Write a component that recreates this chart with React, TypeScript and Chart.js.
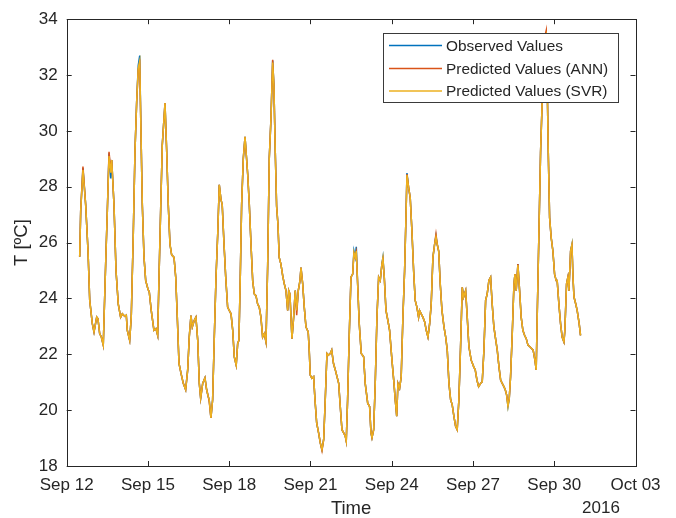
import React, { useEffect, useRef } from "react";
import { Chart, registerables } from "chart.js";

Chart.register(...registerables);

// Hours since Sep 12 2016 00:00
const hours = [
  11.5, 12.4, 14.4, 16.8, 18.9, 20.4, 22.7, 24.2, 26.6, 27.7,
  29.2, 30.7, 32.4, 34.6, 36.0, 37.5, 39.0, 39.9, 41.9, 43.7,
  45.7, 47.8, 49.3, 51.4, 52.8, 53.7, 55.8, 57.2, 59.0, 60.5,
  62.0, 63.4, 64.7, 65.6, 67.0, 68.5, 70.0, 72.0, 73.2, 74.9,
  77.3, 79.1, 80.6, 81.8, 83.3, 84.7, 86.2, 87.1, 88.6, 90.0,
  91.5, 93.0, 95.1, 96.6, 98.0, 99.5, 101.3, 103.3, 105.4, 107.2,
  108.6, 110.1, 111.3, 113.0, 114.5, 116.1, 117.5, 118.7, 120.5, 122.5,
  124.0, 125.4, 126.3, 127.8, 129.3, 130.8, 132.3, 133.8, 135.2, 136.7,
  137.8, 139.4, 140.9, 142.6, 144.0, 145.6, 147.1, 148.5, 150.2, 151.5,
  152.6, 153.8, 155.0, 156.5, 158.0, 160.4, 161.8, 163.3, 164.8, 166.2,
  167.7, 169.2, 170.6, 172.1, 173.6, 175.1, 176.6, 178.1, 179.5, 181.0,
  182.5, 183.6, 184.8, 186.0, 187.2, 188.3, 189.8, 191.4, 192.8, 194.3,
  195.8, 196.7, 197.8, 199.6, 201.1, 202.5, 203.8, 205.2, 206.7, 207.6,
  209.1, 210.5, 212.0, 214.0, 214.9, 215.8, 217.3, 218.8, 220.0, 221.5,
  223.2, 224.7, 226.2, 227.7, 229.1, 230.6, 231.8, 233.5, 234.8, 236.4,
  238.0, 239.5, 241.0, 242.4, 243.9, 245.4, 246.8, 247.7, 248.9, 250.4,
  251.9, 253.4, 254.5, 255.7, 256.6, 257.8, 259.2, 261.0, 263.1, 264.5,
  266.7, 268.4, 269.6, 270.5, 272.0, 273.4, 274.9, 276.4, 277.8, 279.3,
  280.2, 281.4, 282.9, 284.6, 286.1, 288.2, 290.0, 291.1, 292.4, 293.5,
  295.0, 296.4, 297.9, 299.4, 300.6, 301.5, 303.0, 304.4, 305.9, 307.4,
  308.8, 310.3, 311.8, 312.7, 314.1, 315.6, 317.2, 318.6, 320.1, 321.6,
  323.0, 324.5, 326.0, 327.2, 328.3, 329.6, 331.0, 332.5, 334.3, 335.8,
  337.2, 338.7, 340.2, 341.6, 343.1, 344.6, 346.0, 347.5, 349.0, 350.5,
  351.7, 353.5, 354.9, 356.4, 358.4, 360.6, 362.0, 363.5, 365.0, 366.8,
  368.2, 369.7, 371.2, 372.6, 374.1, 375.6, 377.0, 378.5, 380.0, 381.5,
  383.0, 384.5, 385.9, 387.4, 388.6, 389.8, 391.0, 392.1, 393.3, 394.8,
  396.3, 397.2, 398.3, 399.8, 401.3, 402.7, 404.2, 405.7, 407.2, 408.7,
  410.4, 411.9, 413.3, 414.9, 416.0, 416.9, 418.4, 419.9, 421.3, 422.2,
  423.5, 424.9, 425.8, 426.7, 427.9, 429.3, 430.8, 432.3, 433.7, 434.6,
  436.1, 437.6, 439.0, 440.6, 441.4, 442.9, 444.1, 445.0, 446.5, 447.7,
  448.6, 449.5, 451.0, 452.3, 454.1, 455.3,
];

const observedValues = [
  25.49, 27.13, 28.67, 27.36, 25.70, 23.93, 23.10, 22.80, 23.33, 23.27,
  22.74, 22.62, 22.33, 25.35, 27.13, 29.20, 28.30, 28.96, 27.36, 24.99,
  23.80, 23.33, 23.45, 23.36, 23.40, 22.86, 22.50, 23.33, 26.30, 29.26,
  31.04, 32.34, 32.70, 30.44, 27.36, 25.47, 24.64, 24.34, 24.22, 23.57,
  22.86, 22.92, 22.68, 24.76, 27.24, 29.50, 30.44, 31.00, 29.26, 27.36,
  25.94, 25.56, 25.47, 24.76, 23.33, 21.67, 21.32, 20.96, 20.73, 21.44,
  22.62, 23.39, 22.98, 23.21, 23.33, 22.50, 20.96, 20.43, 20.96, 21.16,
  20.73, 20.49, 20.37, 19.72, 20.37, 22.62, 24.76, 26.30, 28.07, 27.54,
  27.36, 25.94, 24.76, 23.69, 23.57, 23.45, 22.86, 21.91, 21.61, 22.39,
  22.50, 24.76, 27.36, 29.02, 29.79, 28.43, 27.36, 25.94, 24.64, 24.16,
  24.10, 23.80, 23.69, 23.33, 22.62, 22.74, 22.44, 25.23, 29.02, 30.44,
  32.52, 31.63, 29.26, 27.30, 26.65, 25.47, 25.23, 24.81, 24.52, 24.28,
  23.57, 24.28, 24.16, 22.56, 23.33, 24.28, 23.57, 24.28, 24.64, 25.11,
  24.52, 23.69, 22.98, 22.80, 22.15, 21.26, 21.14, 21.20, 20.37, 19.54,
  19.19, 18.83, 18.59, 18.95, 20.37, 22.03, 21.97, 22.03, 22.15, 21.67,
  21.44, 21.20, 20.96, 20.13, 19.30, 19.19, 19.07, 18.89, 20.37, 22.74,
  24.76, 24.87, 25.70, 25.47, 25.85, 24.52, 23.10, 22.03, 21.91, 20.96,
  20.25, 20.13, 19.19, 19.01, 19.30, 20.96, 23.33, 24.76, 24.64, 25.23,
  25.47, 24.76, 23.57, 23.21, 22.86, 21.79, 20.96, 20.37, 19.78, 20.96,
  20.79, 21.20, 23.33, 24.99, 26.89, 28.49, 27.96, 27.60, 26.41, 24.99,
  23.93, 23.69, 23.33, 23.57, 23.45, 23.33, 23.16, 22.86, 22.62, 23.10,
  23.81, 25.47, 25.94, 26.24, 25.94, 25.70, 24.52, 23.57, 22.98, 22.62,
  22.15, 20.96, 20.37, 20.19, 19.78, 19.42, 19.30, 20.37, 22.27, 24.40,
  24.05, 24.28, 23.33, 22.27, 21.79, 21.56, 21.44, 21.08, 20.84, 20.96,
  21.02, 22.15, 23.93, 24.16, 24.64, 24.76, 23.81, 22.98, 22.56, 22.15,
  21.56, 21.08, 20.96, 20.84, 20.73, 20.55, 20.13, 20.40, 21.20, 22.74,
  24.52, 24.87, 24.28, 25.23, 24.28, 23.33, 22.86, 22.68, 22.56, 22.33,
  22.27, 22.21, 22.15, 21.79, 21.44, 23.33, 26.30, 29.26, 31.04, 32.22,
  33.29, 33.40, 31.63, 29.26, 26.89, 26.18, 25.70, 24.87, 24.64, 24.64,
  23.81, 23.10, 22.62, 22.44, 22.86, 24.52, 24.76, 24.28, 25.70, 25.94,
  24.76, 24.05, 23.81, 23.57, 23.10, 22.68,
];

const annValues = [
  25.49, 27.13, 28.72, 27.36, 25.70, 23.93, 23.10, 22.80, 23.33, 23.27,
  22.74, 22.62, 22.33, 25.35, 27.13, 29.25, 28.60, 28.96, 27.36, 24.99,
  23.80, 23.33, 23.45, 23.36, 23.40, 22.86, 22.50, 23.33, 26.30, 29.26,
  31.04, 32.20, 32.40, 30.44, 27.36, 25.47, 24.64, 24.34, 24.22, 23.57,
  22.86, 22.92, 22.68, 24.76, 27.24, 29.50, 30.44, 31.00, 29.26, 27.36,
  25.94, 25.56, 25.47, 24.76, 23.33, 21.67, 21.32, 20.96, 20.73, 21.44,
  22.62, 23.39, 22.98, 23.21, 23.33, 22.50, 20.96, 20.43, 20.96, 21.16,
  20.73, 20.49, 20.30, 19.72, 20.37, 22.62, 24.76, 26.30, 28.07, 27.54,
  27.36, 25.94, 24.76, 23.69, 23.57, 23.45, 22.86, 21.91, 21.61, 22.39,
  22.50, 24.76, 27.36, 29.02, 29.79, 28.43, 27.36, 25.94, 24.64, 24.16,
  24.10, 23.80, 23.69, 23.33, 22.62, 22.74, 22.44, 25.23, 29.02, 30.44,
  32.55, 31.63, 29.26, 27.30, 26.65, 25.47, 25.23, 24.81, 24.52, 24.28,
  23.57, 24.28, 24.16, 22.56, 23.33, 24.28, 23.40, 24.28, 24.64, 25.11,
  24.52, 23.69, 22.98, 22.80, 22.15, 21.26, 21.14, 21.20, 20.37, 19.54,
  19.19, 18.83, 18.55, 18.95, 20.37, 22.03, 21.97, 22.03, 22.15, 21.67,
  21.44, 21.20, 20.96, 20.13, 19.30, 19.19, 19.07, 18.89, 20.37, 22.74,
  24.76, 24.87, 25.60, 25.47, 25.65, 24.52, 23.10, 22.03, 21.91, 20.96,
  20.25, 20.13, 19.19, 19.01, 19.30, 20.96, 23.33, 24.76, 24.64, 25.23,
  25.40, 24.76, 23.57, 23.21, 22.86, 21.79, 20.96, 20.37, 19.78, 20.96,
  20.79, 21.20, 23.33, 24.99, 26.89, 28.45, 27.96, 27.60, 26.41, 24.99,
  23.93, 23.69, 23.33, 23.57, 23.45, 23.33, 23.16, 22.86, 22.62, 23.10,
  23.81, 25.47, 25.94, 26.30, 25.94, 25.70, 24.52, 23.57, 22.98, 22.62,
  22.15, 20.96, 20.37, 20.19, 19.78, 19.42, 19.30, 20.37, 22.27, 24.40,
  24.05, 24.28, 23.33, 22.27, 21.79, 21.56, 21.44, 21.08, 20.84, 20.96,
  21.02, 22.15, 23.93, 24.16, 24.64, 24.76, 23.81, 22.98, 22.56, 22.15,
  21.56, 21.08, 20.96, 20.84, 20.73, 20.55, 20.20, 20.40, 21.20, 22.74,
  24.52, 24.87, 24.28, 25.23, 24.28, 23.33, 22.86, 22.68, 22.56, 22.33,
  22.27, 22.21, 22.15, 21.79, 21.44, 23.33, 26.30, 29.26, 31.04, 32.22,
  33.35, 33.60, 31.63, 29.26, 26.89, 26.18, 25.70, 24.87, 24.64, 24.64,
  23.81, 23.10, 22.62, 22.44, 22.86, 24.52, 24.76, 24.28, 25.70, 25.90,
  24.76, 24.05, 23.81, 23.57, 23.10, 22.68,
];

const svrValues = [
  25.49, 27.13, 28.60, 27.36, 25.70, 23.93, 23.10, 22.80, 23.33, 23.27,
  22.74, 22.62, 22.33, 25.35, 27.13, 29.10, 28.50, 28.96, 27.36, 24.99,
  23.80, 23.33, 23.45, 23.36, 23.40, 22.86, 22.50, 23.33, 26.30, 29.26,
  31.04, 32.25, 32.50, 30.44, 27.36, 25.47, 24.64, 24.34, 24.22, 23.57,
  22.86, 22.92, 22.68, 24.76, 27.24, 29.50, 30.44, 31.00, 29.26, 27.36,
  25.94, 25.56, 25.47, 24.76, 23.33, 21.67, 21.32, 20.96, 20.73, 21.44,
  22.62, 23.39, 22.98, 23.21, 23.33, 22.50, 20.96, 20.43, 20.96, 21.16,
  20.73, 20.49, 20.37, 19.72, 20.37, 22.62, 24.76, 26.30, 28.07, 27.54,
  27.36, 25.94, 24.76, 23.69, 23.57, 23.45, 22.86, 21.91, 21.61, 22.39,
  22.50, 24.76, 27.36, 29.02, 29.79, 28.43, 27.36, 25.94, 24.64, 24.16,
  24.10, 23.80, 23.69, 23.33, 22.62, 22.74, 22.44, 25.23, 29.02, 30.44,
  32.45, 31.63, 29.26, 27.30, 26.65, 25.47, 25.23, 24.81, 24.52, 24.28,
  23.57, 24.28, 24.16, 22.56, 23.33, 24.28, 23.57, 24.28, 24.64, 25.11,
  24.52, 23.69, 22.98, 22.80, 22.15, 21.26, 21.14, 21.20, 20.37, 19.54,
  19.19, 18.83, 18.59, 18.95, 20.37, 22.03, 21.97, 22.03, 22.15, 21.67,
  21.44, 21.20, 20.96, 20.13, 19.30, 19.19, 19.07, 18.89, 20.37, 22.74,
  24.76, 24.87, 25.65, 25.47, 25.70, 24.52, 23.10, 22.03, 21.91, 20.96,
  20.25, 20.13, 19.19, 19.01, 19.30, 20.96, 23.33, 24.76, 24.64, 25.23,
  25.45, 24.76, 23.57, 23.21, 22.86, 21.79, 20.96, 20.37, 19.78, 20.96,
  20.79, 21.20, 23.33, 24.99, 26.89, 28.42, 27.96, 27.60, 26.41, 24.99,
  23.93, 23.69, 23.33, 23.57, 23.45, 23.33, 23.16, 22.86, 22.62, 23.10,
  23.81, 25.47, 25.94, 26.20, 25.94, 25.70, 24.52, 23.57, 22.98, 22.62,
  22.15, 20.96, 20.37, 20.19, 19.78, 19.42, 19.30, 20.37, 22.27, 24.40,
  24.05, 24.28, 23.33, 22.27, 21.79, 21.56, 21.44, 21.08, 20.84, 20.96,
  21.02, 22.15, 23.93, 24.16, 24.64, 24.76, 23.81, 22.98, 22.56, 22.15,
  21.56, 21.08, 20.96, 20.84, 20.73, 20.55, 20.13, 20.40, 21.20, 22.74,
  24.52, 24.87, 24.28, 25.20, 24.28, 23.33, 22.86, 22.68, 22.56, 22.33,
  22.27, 22.21, 22.15, 21.79, 21.44, 23.33, 26.30, 29.26, 31.04, 32.22,
  33.29, 33.45, 31.63, 29.26, 26.89, 26.18, 25.70, 24.87, 24.64, 24.64,
  23.81, 23.10, 22.62, 22.44, 22.86, 24.52, 24.76, 24.28, 25.70, 25.94,
  24.76, 24.05, 23.81, 23.57, 23.10, 22.68,
];

const seriesLabels = ["Observed Values", "Predicted Values (ANN)", "Predicted Values (SVR)"];
const seriesColors = ["#0072BD", "#D95319", "#EDB120"];
const xTickLabels = ["Sep 12", "Sep 15", "Sep 18", "Sep 21", "Sep 24", "Sep 27", "Sep 30", "Oct 03"];
const xTickStepHours = 72;
const xMaxHours = 504;
const yMin = 18;
const yMax = 34;
const yStep = 2;
const xTitle = "Time";
const yTitle = "T [ºC]";
const yearLabel = "2016";

const FONT = "'Liberation Sans', Arial, Helvetica, sans-serif";
const INK = "#262626";

const matlabPlugin = {
  id: "matlabDecor",
  afterDraw(chart: any) {
    const ctx = chart.ctx;
    const { left, right, top, bottom } = chart.chartArea;
    const xs = chart.scales.x;
    const ys = chart.scales.y;
    ctx.save();
    ctx.strokeStyle = INK;
    ctx.lineWidth = 1;
    const tl = 5;
    ctx.beginPath();
    for (let v = 0; v <= xMaxHours; v += xTickStepHours) {
      const px = Math.round(xs.getPixelForValue(v)) + 0.5;
      ctx.moveTo(px, bottom);
      ctx.lineTo(px, bottom - tl);
      ctx.moveTo(px, top);
      ctx.lineTo(px, top + tl);
    }
    for (let v = yMin; v <= yMax; v += yStep) {
      const py = Math.round(ys.getPixelForValue(v)) + 0.5;
      ctx.moveTo(left, py);
      ctx.lineTo(left + tl, py);
      ctx.moveTo(right, py);
      ctx.lineTo(right - tl, py);
    }
    ctx.stroke();
    ctx.strokeRect(Math.round(left) + 0.5, Math.round(top) + 0.5, Math.round(right - left), Math.round(bottom - top));

    ctx.fillStyle = INK;
    ctx.textAlign = "center";
    ctx.textBaseline = "middle";
    ctx.font = `18.5px ${FONT}`;
    ctx.fillText(xTitle, (left + right) / 2, 509);
    ctx.font = `17px ${FONT}`;
    ctx.fillText(yearLabel, 601, 508);
    ctx.save();
    ctx.translate(22, (top + bottom) / 2);
    ctx.rotate(-Math.PI / 2);
    ctx.font = `18.5px ${FONT}`;
    ctx.fillText(yTitle, 0, 0);
    ctx.restore();

    const bx = 383.5, by = 33.5, bw = 235, bh = 69;
    ctx.fillStyle = "#ffffff";
    ctx.fillRect(bx, by, bw, bh);
    ctx.strokeStyle = "#3a3a3a";
    ctx.lineWidth = 1;
    ctx.strokeRect(bx, by, bw, bh);
    const rows = [45.5, 68.5, 91];
    ctx.font = `15.4px ${FONT}`;
    ctx.textAlign = "left";
    ctx.textBaseline = "middle";
    seriesLabels.forEach((lab, i) => {
      ctx.strokeStyle = seriesColors[i];
      ctx.lineWidth = 1.3;
      ctx.beginPath();
      ctx.moveTo(389, rows[i]);
      ctx.lineTo(442, rows[i]);
      ctx.stroke();
      ctx.fillStyle = INK;
      ctx.fillText(lab, 446, rows[i] + 1);
    });
    ctx.restore();
  },
};

export default function App() {
  const ref = useRef<HTMLCanvasElement | null>(null);
  useEffect(() => {
    if (!ref.current) return;
    const mk = (vals: number[]) => hours.map((h, i) => ({ x: h, y: vals[i] }));
    const valueSets = [observedValues, annValues, svrValues];
    const chart = new Chart(ref.current, {
      type: "line",
      data: {
        datasets: seriesLabels.map((label, i) => ({
          label,
          data: mk(valueSets[i]),
          borderColor: seriesColors[i],
          backgroundColor: seriesColors[i],
          borderWidth: 1.5,
          pointRadius: 0,
          tension: 0,
          order: 2 - i,
        })),
      },
      options: {
        animation: false,
        responsive: false,
        devicePixelRatio: 1,
        layout: { padding: { left: 0, top: 16, right: 40.5, bottom: 0 } },
        plugins: { legend: { display: false }, tooltip: { enabled: false } },
        scales: {
          x: {
            type: "linear",
            min: 0,
            max: xMaxHours,
            grid: { display: false, drawTicks: false },
            border: { display: false },
            afterFit: (s: any) => { s.height = 52; },
            afterBuildTicks: (s: any) => {
              s.ticks = xTickLabels.map((_, i) => ({ value: i * xTickStepHours }));
            },
            ticks: {
              color: INK,
              font: { family: FONT, size: 17 },
              padding: 9,
              maxRotation: 0,
              autoSkip: false,
              callback: (_v: any, i: number) => xTickLabels[i],
            },
          },
          y: {
            min: yMin,
            max: yMax,
            grid: { display: false, drawTicks: false },
            border: { display: false },
            afterFit: (s: any) => { s.width = 66.7; },
            ticks: {
              stepSize: yStep,
              color: INK,
              font: { family: FONT, size: 17 },
              padding: 9,
            },
          },
        },
      },
      plugins: [matlabPlugin],
    } as any);
    return () => chart.destroy();
  }, []);
  return (
    <div style={{ position: "absolute", left: 0, top: 0, width: 676, height: 518, background: "#fff" }}>
      <canvas ref={ref} width={676} height={518} />
    </div>
  );
}
